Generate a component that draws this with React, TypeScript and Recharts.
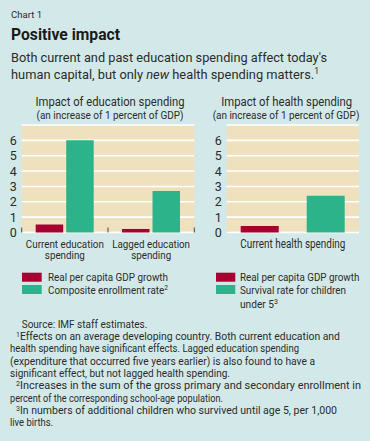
import React from "react";
import { BarChart, Bar, XAxis, YAxis, CartesianGrid } from "recharts";

const eduCategories = ["Current education spending", "Lagged education spending"];
const eduGdpGrowth = [0.52, 0.23];
const eduEnrollment = [6.0, 2.7];

const healthCategories = ["Current health spending"];
const healthGdpGrowth = [0.42];
const healthSurvival = [2.4];

const yTicks = [0, 1, 2, 3, 4, 5, 6];

const eduData = eduCategories.map((c, i) => ({ name: c, gdp: eduGdpGrowth[i], other: eduEnrollment[i] }));
const healthData = healthCategories.map((c, i) => ({ name: c, gdp: healthGdpGrowth[i], other: healthSurvival[i] }));

const BG = "#d3e9e9";
const PLOT = "#f0e1be";
const RED = "#a5002f";
const GREEN = "#2cb38a";
const TXT = "#2b2b2b";
const FONT = "'Roboto', 'Liberation Sans', sans-serif";

const T = (props: any) => {
  const { x, y, size, w, anchor, weight, fill, children } = props;
  return (
    <text
      x={x}
      y={y}
      fontSize={size}
      fontWeight={weight || "normal"}
      textAnchor={anchor || "start"}
      fill={fill || TXT}
      fontFamily={FONT}
      textLength={w}
      lengthAdjust="spacingAndGlyphs"
    >
      {children}
    </text>
  );
};

const eduLabelWidths = [[78, 40], [77.7, 40]];

const EduTick = (props: any) => {
  const { x, y, payload, index } = props;
  const off = payload.offset || 0;
  const s = String(payload.value);
  const k = s.lastIndexOf(" ");
  const lines = [s.slice(0, k), s.slice(k + 1)];
  return (
    <g>
      <line x1={x - off} x2={x - off} y1={y - 5} y2={y} stroke="#444" strokeWidth={1} />
      {index === eduCategories.length - 1 ? (
        <line x1={x + off} x2={x + off} y1={y - 5} y2={y} stroke="#444" strokeWidth={1} />
      ) : null}
      {lines.map((l, i) => (
        <T key={i} x={x} y={y + 15.8 + i * 10.4} size={11.5} anchor="middle" w={eduLabelWidths[index][i]}>
          {l}
        </T>
      ))}
    </g>
  );
};

const HealthTick = (props: any) => {
  const { x, y, payload } = props;
  return (
    <T x={x} y={y + 15.2} size={12} anchor="middle" w={105}>
      {payload.value}
    </T>
  );
};

export default function App() {
  return (
    <div style={{ position: "absolute", left: 0, top: 0, width: 370, height: 441, background: BG, overflow: "hidden" }}>
      <div style={{ position: "absolute", left: 0, top: 120 }}>
        <BarChart width={212} height={150} data={eduData} margin={{ top: 5, right: 17.7, bottom: 0, left: 0 }} barGap={3}>
          <CartesianGrid vertical={false} stroke="#ffffff" strokeWidth={1.6} fill={PLOT} />
          <XAxis dataKey="name" axisLine={false} tickLine={false} tickSize={0} tickMargin={0} height={37.5} interval={0} tick={<EduTick />} />
          <YAxis domain={[0, 7]} ticks={yTicks} interval={0} width={21.7} axisLine={false} tickLine={false} tickSize={0} tickMargin={5} tick={{ fontSize: 12.5, fill: TXT, fontFamily: FONT }} />
          <Bar dataKey="gdp" fill={RED} barSize={27.5} isAnimationActive={false} />
          <Bar dataKey="other" fill={GREEN} barSize={27.5} isAnimationActive={false} />
        </BarChart>
      </div>
      <div style={{ position: "absolute", left: 200, top: 120 }}>
        <BarChart width={170} height={150} data={healthData} margin={{ top: 5, right: 11, bottom: 0, left: 0 }} barGap={28}>
          <CartesianGrid vertical={false} stroke="#ffffff" strokeWidth={1.6} fill={PLOT} />
          <XAxis dataKey="name" axisLine={false} tickLine={false} tickSize={0} tickMargin={0} height={37.5} interval={0} tick={<HealthTick />} />
          <YAxis domain={[0, 7]} ticks={yTicks} interval={0} width={26.7} axisLine={false} tickLine={false} tickSize={0} tickMargin={5} tick={{ fontSize: 12.5, fill: TXT, fontFamily: FONT }} />
          <Bar dataKey="gdp" fill={RED} barSize={38} isAnimationActive={false} />
          <Bar dataKey="other" fill={GREEN} barSize={38} isAnimationActive={false} />
        </BarChart>
      </div>
      <svg width={370} height={441} style={{ position: "absolute", left: 0, top: 0, pointerEvents: "none" }}>
        <T x={11} y={17.5} size={9.5} w={31}>Chart 1</T>
        <T x={11} y={40} size={17} weight="bold" fill="#1a1a1a" w={109}>Positive impact</T>
        <T x={11} y={61.7} size={13.5} w={316}>Both current and past education spending affect today's</T>
        <T x={11} y={79.3} size={13.5} w={308}>
          human capital, but only <tspan fontStyle="italic">new</tspan> health spending matters.
          <tspan fontSize={9} dy={-5}>1</tspan>
        </T>

        <T x={110} y={105.7} size={12.5} anchor="middle" w={149}>Impact of education spending</T>
        <T x={110} y={119.3} size={10.5} anchor="middle" w={147}>(an increase of 1 percent of GDP)</T>
        <T x={286.7} y={105.7} size={12.5} anchor="middle" w={131}>Impact of health spending</T>
        <T x={286} y={119.3} size={10.5} anchor="middle" w={146.7}>(an increase of 1 percent of GDP)</T>

        <rect x={22} y={272.7} width={19.7} height={9} fill={RED} />
        <rect x={22} y={285} width={19.7} height={9} fill={GREEN} />
        <T x={48} y={280.5} size={11} w={120}>Real per capita GDP growth</T>
        <T x={48} y={293.5} size={11} w={120}>
          Composite enrollment rate<tspan fontSize={7.5} dy={-4}>2</tspan>
        </T>
        <rect x={216} y={272.7} width={19.3} height={9} fill={RED} />
        <rect x={216} y={285} width={19.3} height={9} fill={GREEN} />
        <T x={240} y={280.5} size={10.4} w={119.3}>Real per capita GDP growth</T>
        <T x={240} y={293.5} size={10.8} w={106}>Survival rate for children</T>
        <T x={240} y={308.3} size={10.8} w={38}>
          under 5<tspan fontSize={7.5} dy={-4}>3</tspan>
        </T>

        <T x={21.7} y={327.7} size={10.5} w={125.6}>Source: IMF staff estimates.</T>
        <T x={16} y={340} size={10.5} w={324}>
          <tspan fontSize={7} dy={-3.5}>1</tspan>
          <tspan dy={3.5}>Effects on an average developing country. Both current education and</tspan>
        </T>
        <T x={10} y={352.3} size={10.5} w={289}>health spending have significant effects. Lagged education spending</T>
        <T x={10} y={364.6} size={10.5} w={305}>(expenditure that occurred five years earlier) is also found to have a</T>
        <T x={10} y={377} size={10.5} w={220}>significant effect, but not lagged health spending.</T>
        <T x={16} y={389.3} size={10.5} w={345}>
          <tspan fontSize={7} dy={-3.5}>2</tspan>
          <tspan dy={3.5}>Increases in the sum of the gross primary and secondary enrollment in</tspan>
        </T>
        <T x={10} y={401.6} size={10.5} w={213}>percent of the corresponding school-age population.</T>
        <T x={16} y={414} size={10.5} w={321}>
          <tspan fontSize={7} dy={-3.5}>3</tspan>
          <tspan dy={3.5}>In numbers of additional children who survived until age 5, per 1,000</tspan>
        </T>
        <T x={10} y={426.3} size={10.5} w={43}>live births.</T>
      </svg>
    </div>
  );
}
